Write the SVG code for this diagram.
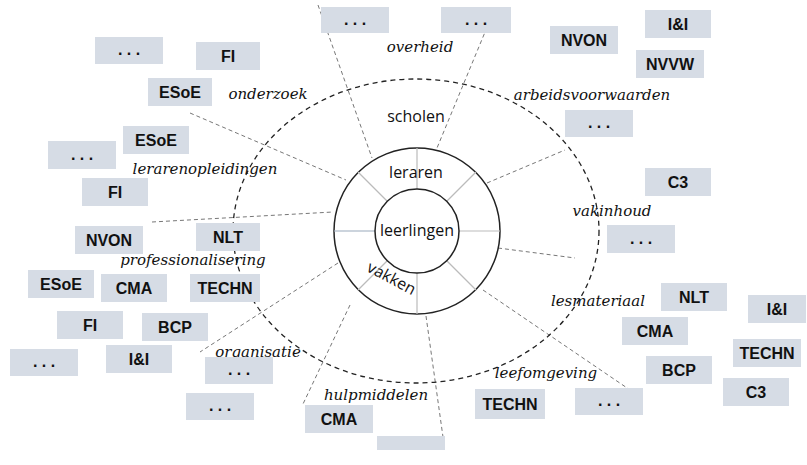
<svg xmlns="http://www.w3.org/2000/svg" width="807" height="465" viewBox="0 0 807 465">
<style>
.b{fill:#D6DCE5}
.t{font-family:"Liberation Sans",Arial,sans-serif;font-weight:bold;font-size:16px;text-anchor:middle;fill:#111}
.l{font-family:"DejaVu Serif","Liberation Serif",serif;font-style:italic;font-size:15px;text-anchor:middle;fill:#111}
.c{font-family:"Open Sans","Liberation Sans",sans-serif;font-size:16px;text-anchor:middle;fill:#111}
.d{stroke:#777;stroke-width:1;stroke-dasharray:4,3;fill:none}
.s{stroke:#bbb;stroke-width:1.2}
</style>
<rect width="807" height="465" fill="#fff"/>
<g id="connectors">
<line class="d" x1="318" y1="5" x2="372" y2="158"/>
<line class="d" x1="495" y1="8" x2="437" y2="148"/>
<line class="d" x1="487" y1="183" x2="565" y2="150"/>
<line class="d" x1="498" y1="248" x2="575" y2="258"/>
<line class="d" x1="483" y1="290" x2="633" y2="392"/>
<line class="d" x1="426" y1="316" x2="443" y2="437"/>
<line class="d" x1="350" y1="305" x2="303" y2="404"/>
<line class="d" x1="338" y1="263" x2="200" y2="352"/>
<line class="d" x1="152" y1="222" x2="333" y2="212"/>
<line class="d" x1="190" y1="113" x2="346" y2="180"/>
</g>
<g id="rings">
<ellipse cx="416" cy="231" rx="183" ry="152" fill="none" stroke="#222" stroke-width="1.3" stroke-dasharray="5,4"/>
<circle cx="417" cy="231" r="83" fill="#fff" stroke="#222" stroke-width="1.5"/>
<line class="s" x1="417" y1="148" x2="417" y2="189"/>
<line class="s" x1="417" y1="273" x2="417" y2="314"/>
<line class="s" x1="334" y1="231" x2="375" y2="231" style="stroke:#9ab"/>
<line class="s" x1="459" y1="231" x2="500" y2="231"/>
<line class="s" x1="358" y1="172" x2="388" y2="202"/>
<line class="s" x1="446" y1="202" x2="476" y2="172"/>
<line class="s" x1="358" y1="290" x2="388" y2="260"/>
<line class="s" x1="446" y1="260" x2="476" y2="290"/>
<circle cx="417" cy="231" r="42" fill="#fff" stroke="#222" stroke-width="1.5"/>
<text class="c" x="416" y="122">scholen</text>
<text class="c" x="416" y="178" font-size="17">leraren</text>
<text class="c" x="417" y="236" font-size="17">leerlingen</text>
<text class="c" x="0" y="0" font-size="17" transform="translate(389,283) rotate(28)">vakken</text>
</g>
<g id="labels">
<text class="l" x="420" y="52">overheid</text>
<text class="l" x="268" y="99">onderzoek</text>
<text class="l" x="592" y="100">arbeidsvoorwaarden</text>
<text class="l" x="205" y="174">lerarenopleidingen</text>
<text class="l" x="612" y="216">vakinhoud</text>
<text class="l" x="193" y="265">professionalisering</text>
<text class="l" x="598" y="306">lesmateriaal</text>
<text class="l" x="258" y="357">organisatie</text>
<text class="l" x="546" y="378">leefomgeving</text>
<text class="l" x="376" y="400">hulpmiddelen</text>
</g>
<g id="n1"><rect class="b" x="321" y="7" width="68" height="26"/><text class="t" x="355" y="25">. . .</text></g>
<g id="n2"><rect class="b" x="441" y="7" width="70" height="26"/><text class="t" x="476" y="25">. . .</text></g>
<g id="n3"><rect class="b" x="196" y="42" width="64" height="28"/><text class="t" x="228" y="62">FI</text></g>
<g id="n4"><rect class="b" x="95" y="37" width="68" height="27"/><text class="t" x="129" y="55">. . .</text></g>
<g id="n5"><rect class="b" x="148" y="78" width="64" height="28"/><text class="t" x="180" y="98">ESoE</text></g>
<g id="n6"><rect class="b" x="550" y="26" width="68" height="28"/><text class="t" x="584" y="46">NVON</text></g>
<g id="n7"><rect class="b" x="645" y="10" width="66" height="28"/><text class="t" x="678" y="30">I&amp;I</text></g>
<g id="n8"><rect class="b" x="636" y="50" width="68" height="28"/><text class="t" x="670" y="70">NVVW</text></g>
<g id="n9"><rect class="b" x="565" y="110" width="68" height="27"/><text class="t" x="599" y="128">. . .</text></g>
<g id="n10"><rect class="b" x="123" y="126" width="66" height="28"/><text class="t" x="156" y="146">ESoE</text></g>
<g id="n11"><rect class="b" x="48" y="141" width="68" height="28"/><text class="t" x="82" y="160">. . .</text></g>
<g id="n12"><rect class="b" x="82" y="178" width="66" height="28"/><text class="t" x="115" y="198">FI</text></g>
<g id="n13"><rect class="b" x="645" y="168" width="66" height="28"/><text class="t" x="678" y="188">C3</text></g>
<g id="n14"><rect class="b" x="607" y="225" width="68" height="28"/><text class="t" x="641" y="244">. . .</text></g>
<g id="n15"><rect class="b" x="75" y="226" width="68" height="28"/><text class="t" x="109" y="246">NVON</text></g>
<g id="n16"><rect class="b" x="196" y="223" width="64" height="28"/><text class="t" x="228" y="243">NLT</text></g>
<g id="n17"><rect class="b" x="28" y="270" width="66" height="28"/><text class="t" x="61" y="290">ESoE</text></g>
<g id="n18"><rect class="b" x="101" y="274" width="66" height="28"/><text class="t" x="134" y="294">CMA</text></g>
<g id="n19"><rect class="b" x="190" y="274" width="70" height="28"/><text class="t" x="225" y="294">TECHN</text></g>
<g id="n20"><rect class="b" x="57" y="311" width="66" height="28"/><text class="t" x="90" y="331">FI</text></g>
<g id="n21"><rect class="b" x="142" y="313" width="66" height="28"/><text class="t" x="175" y="333">BCP</text></g>
<g id="n22"><rect class="b" x="10" y="349" width="68" height="27"/><text class="t" x="44" y="367">. . .</text></g>
<g id="n23"><rect class="b" x="106" y="345" width="66" height="28"/><text class="t" x="139" y="365">I&amp;I</text></g>
<g id="n24"><rect class="b" x="205" y="357" width="68" height="27"/><text class="t" x="239" y="375">. . .</text></g>
<g id="n25"><rect class="b" x="186" y="393" width="68" height="27"/><text class="t" x="220" y="411">. . .</text></g>
<g id="n26"><rect class="b" x="305" y="405" width="68" height="28"/><text class="t" x="339" y="425">CMA</text></g>
<g id="n27"><rect class="b" x="377" y="436" width="68" height="14"/></g>
<g id="n28"><rect class="b" x="475" y="389" width="70" height="30"/><text class="t" x="510" y="410">TECHN</text></g>
<g id="n29"><rect class="b" x="575" y="388" width="68" height="27"/><text class="t" x="609" y="406">. . .</text></g>
<g id="n30"><rect class="b" x="661" y="283" width="66" height="28"/><text class="t" x="694" y="303">NLT</text></g>
<g id="n31"><rect class="b" x="622" y="317" width="66" height="28"/><text class="t" x="655" y="337">CMA</text></g>
<g id="n32"><rect class="b" x="748" y="295" width="58" height="28"/><text class="t" x="777" y="315">I&amp;I</text></g>
<g id="n33"><rect class="b" x="733" y="339" width="68" height="28"/><text class="t" x="767" y="359">TECHN</text></g>
<g id="n34"><rect class="b" x="646" y="356" width="66" height="28"/><text class="t" x="679" y="376">BCP</text></g>
<g id="n35"><rect class="b" x="723" y="378" width="66" height="28"/><text class="t" x="756" y="398">C3</text></g>
</svg>
